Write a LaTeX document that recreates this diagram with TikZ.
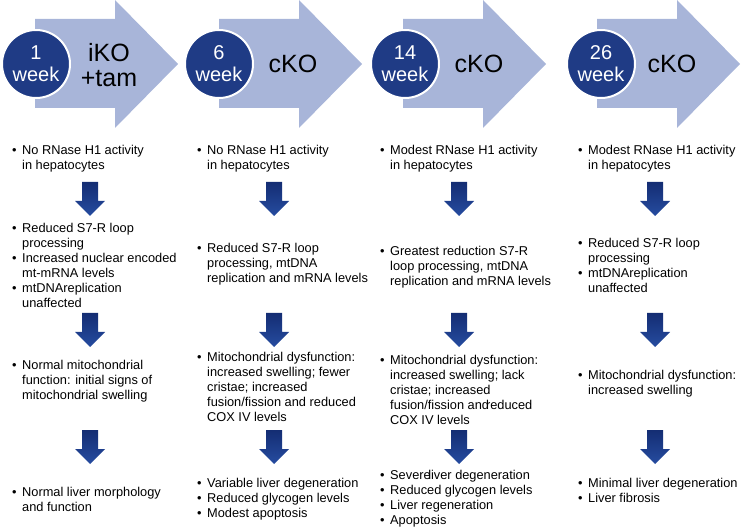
\documentclass[tikz,border=0pt]{standalone}
\usepackage{fontspec}
\setmainfont{Liberation Sans}
\usepackage{tikz}
\usepackage{xcolor}
\definecolor{hdfill}{RGB}{168,181,217}
\definecolor{wknavy}{RGB}{31,59,133}
\definecolor{dntop}{RGB}{20,45,115}
\definecolor{dnbot}{RGB}{38,76,160}
\setlength{\lineskip}{0pt}
\newcommand{\itm}[1]{\makebox[10pt][l]{\textbullet}\begin{tabular}[t]{@{}l@{}}#1\end{tabular}}

\begin{document}
\begin{tikzpicture}[x=1pt,y=-1pt,line cap=round,
  hdarrow/.pic={\fill[hdfill] (0,19) -- (80,19) -- (80,0) -- (143,64) -- (80,128) -- (80,108) -- (0,108) -- cycle;},
  dnarrow/.pic={\shade[top color=dntop,bottom color=dnbot] (-8,0) -- (8,0) -- (8,19) -- (15,19) -- (0,34) -- (-15,19) -- (-8,19) -- cycle;},
  wkcirc/.style={circle,fill=wknavy,draw=white,line width=2pt,minimum size=68pt,inner sep=0pt,text=white,align=center,font=\fontsize{20}{22}\selectfont},
  kolabel/.style={inner sep=0pt,align=center,font=\fontsize{25}{25}\selectfont},
  blk/.style={anchor=north west,inner sep=0pt,align=left,font=\fontsize{12.8}{15}\selectfont}]
\useasboundingbox (0,0) rectangle (742,529);
% header
\pic at (35,0) {hdarrow};
\pic at (219,0) {hdarrow};
\pic at (403,0) {hdarrow};
\pic at (597,0) {hdarrow};
\node[wkcirc] (w1) at (36,64) {1\\week};
\node[wkcirc] (w6) at (219,64) {6\\week};
\node[wkcirc] (w14) at (405,64) {14\\week};
\node[wkcirc] (w26) at (601,64) {26\\week};
\node[kolabel] (k1) at (109,65) {iKO\\+tam};
\node[kolabel] (k6) at (293,64) {cKO};
\node[kolabel] (k14) at (479,64) {cKO};
\node[kolabel] (k26) at (672,64) {cKO};
% 1 week
\node[blk] (a1) at (12,144) {\itm{No RNase H1 activity\\in hepatocytes}};
\node[blk] (a2) at (12,222) {\itm{Reduced S7-R loop\\processing}\\\itm{Increased nuclear encoded\\mt-mRNA levels}\\\itm{mtDNAreplication\\unaffected}};
\node[blk] (a3) at (12,359) {\itm{Normal mitochondrial\\function: initial signs of\\mitochondrial swelling}};
\node[blk] (a4) at (12,486) {\itm{Normal liver morphology\\and function}};
% 6 week
\node[blk] (b1) at (197,144) {\itm{No RNase H1 activity\\in hepatocytes}};
\node[blk] (b2) at (197,242) {\itm{Reduced S7-R loop\\processing, mtDNA\\replication and mRNA levels}};
\node[blk] (b3) at (197,351) {\itm{Mitochondrial dysfunction:\\increased swelling; fewer\\cristae; increased\\fusion/fission and reduced\\COX IV levels}};
\node[blk] (b4) at (197,477) {\itm{Variable liver degeneration}\\\itm{Reduced glycogen levels}\\\itm{Modest apoptosis}};
% 14 week
\node[blk] (c1) at (380,144) {\itm{Modest RNase H1 activity\\in hepatocytes}};
\node[blk] (c2) at (380,245) {\itm{Greatest reduction S7-R\\loop processing, mtDNA\\replication and mRNA levels}};
\node[blk] (c3) at (380,354) {\itm{Mitochondrial dysfunction:\\increased swelling; lack\\cristae; increased\\fusion/fission and\kern-3pt reduced\\COX IV levels}};
\node[blk] (c4) at (380,469) {\itm{Severe\kern-2.5pt liver degeneration}\\\itm{Reduced glycogen levels}\\\itm{Liver regeneration}\\\itm{Apoptosis}};
% 26 week
\node[blk] (d1) at (578,144) {\itm{Modest RNase H1 activity\\in hepatocytes}};
\node[blk] (d2) at (578,237) {\itm{Reduced S7-R loop\\processing}\\\itm{mtDNAreplication\\unaffected}};
\node[blk] (d3) at (578,369) {\itm{Mitochondrial dysfunction:\\increased swelling}};
\node[blk] (d4) at (578,477) {\itm{Minimal liver degeneration}\\\itm{Liver fibrosis}};
% down arrows
\foreach \x in {90,274,459,655}
  \foreach \y in {182,313,430}
    \pic at (\x,\y) {dnarrow};
\end{tikzpicture}
\end{document}
